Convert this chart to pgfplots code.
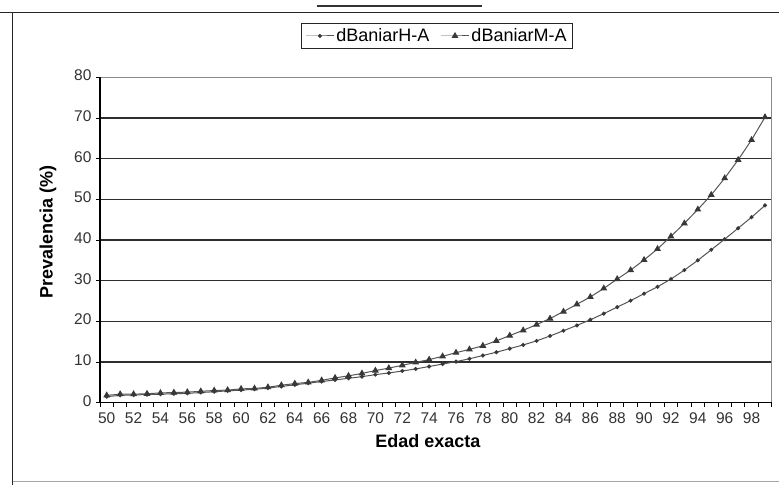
\documentclass[border=0pt]{standalone}
\usepackage{fontspec}
\setmainfont{Liberation Sans}
\usepackage{pgfplots}
\pgfplotsset{compat=1.18}
\usepackage{pgfplotstable}

\definecolor{markgray}{HTML}{383838}
\definecolor{linegray}{HTML}{555555}
\definecolor{gridgray}{HTML}{2E2E2E}
\definecolor{bordergray}{HTML}{8A8A8A}

% Prevalence by exact age: men (H) and women (M)
\pgfplotstableread{
edad H    M
50   1.5  1.8
51   1.8  2.1
52   1.9  2.1
53   2.0  2.2
54   2.1  2.4
55   2.2  2.5
56   2.3  2.6
57   2.5  2.8
58   2.7  3.0
59   2.9  3.1
60   3.1  3.4
61   3.3  3.5
62   3.6  3.8
63   4.0  4.3
64   4.4  4.7
65   4.8  5.0
66   5.2  5.5
67   5.6  6.1
68   6.0  6.6
69   6.4  7.2
70   6.9  7.9
71   7.3  8.5
72   7.8  9.2
73   8.3  9.9
74   8.9  10.6
75   9.5  11.4
76   10.1 12.3
77   10.8 13.1
78   11.6 14.0
79   12.4 15.2
80   13.3 16.5
81   14.2 17.8
82   15.2 19.2
83   16.4 20.7
84   17.7 22.4
85   19.0 24.2
86   20.4 26.0
87   21.9 28.1
88   23.5 30.4
89   25.1 32.6
90   26.8 35.1
91   28.5 37.8
92   30.4 40.9
93   32.6 44.1
94   35.0 47.5
95   37.6 51.1
96   40.2 55.2
97   42.9 59.7
98   45.6 64.6
99   48.5 70.2
}\prevtable

\begin{document}
\begin{tikzpicture}[x=1pt,y=1pt]
\clip (0,0) rectangle (779,485);
\fill[white] (0,0) rectangle (779,485);

% chart area frame
\draw[line width=1.6pt, black!85] (0,472.5) -- (779,472.5);
\draw[line width=1.2pt, black!85] (12.5,472.5) -- (12.5,0);
\draw[line width=0.6pt, black!35] (12.5,3.5) -- (779,3.5);
% title underline
\draw[line width=1.6pt, black!80] (317,479) -- (482,479);

\begin{axis}[
  at={(100pt,82.3pt)}, anchor=south west,
  scale only axis, width=671.7pt, height=325.4pt,
  xmin=49.5, xmax=99.5, ymin=0, ymax=80,
  axis line style={draw=none},
  tick align=outside, tick pos=left,
  xtick={50,52,...,98},
  minor xtick={49.5,50.5,...,99.5},
  ytick={0,10,...,80},
  major tick length=4pt, minor tick length=4pt,
  x tick style={draw=none},
  minor x tick style={draw=black, line width=0.9pt},
  y tick style={draw=black, line width=0.9pt},
  ymajorgrids,
  major grid style={gridgray, line width=1.5pt},
  /pgf/number format/assume math mode=true,
  typeset ticklabels with strut,
  tick label style={font=\fontsize{15.5}{18}\selectfont, text=black!80},
  xticklabel style={yshift=-1pt},
  yticklabel style={xshift=-1pt},
  xlabel={\bfseries Edad exacta},
  ylabel={\bfseries Prevalencia (\%)},
  label style={font=\fontsize{18}{20}\selectfont},
  xlabel style={at={(axis description cs:0.488,-0.118)}, anchor=center},
  ylabel style={at={(axis description cs:-0.0774,0.5245)}, anchor=center, rotate=0},
  legend columns=2,
  legend style={at={(axis description cs:0.5017,1.127)}, anchor=center,
    draw=black!85, line width=1pt, font=\fontsize{18}{20}\selectfont,
    inner xsep=4pt, inner ysep=3pt,
    /tikz/every even column/.append style={column sep=9pt}},
  legend image code/.code={
    \draw[mark repeat=2, mark phase=2] plot coordinates {(0pt,0pt) (14pt,0pt) (28pt,0pt)};
  },
  clip=false,
]
\addplot[color=linegray, line width=1pt, mark=*, mark size=1.5pt,
  mark options={fill=markgray, draw=markgray}] table[x=edad, y=H] {\prevtable};
\addlegendentry{dBaniarH-A}
\addplot[color=linegray, line width=1pt, mark=triangle*, mark size=3pt,
  mark options={fill=markgray, draw=markgray}] table[x=edad, y=M] {\prevtable};
\addlegendentry{dBaniarM-A}

% plot area borders: grey box, black value and category axes
\draw[bordergray, line width=1pt] (rel axis cs:0,1) -- (rel axis cs:1,1) -- (rel axis cs:1,0);
\draw[black, line width=1.2pt] (rel axis cs:0,1) -- (rel axis cs:0,0) -- (rel axis cs:1,0);
\end{axis}
\end{tikzpicture}
\end{document}
